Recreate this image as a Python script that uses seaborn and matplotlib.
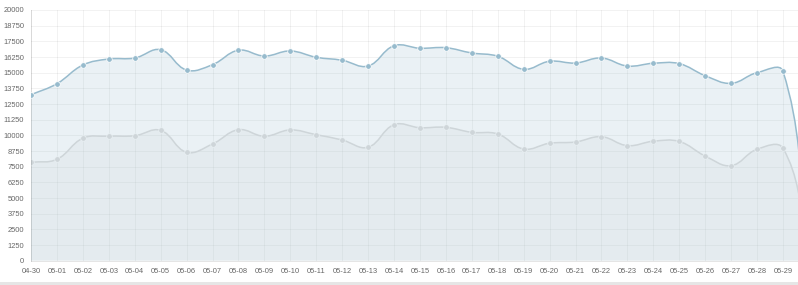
import numpy as np
import pandas as pd
import seaborn as sns
import matplotlib
matplotlib.use("Agg")
import matplotlib.pyplot as plt
from matplotlib.path import Path
from matplotlib.patches import PathPatch, Rectangle

# ---- data ----
dates = ["04-30", "05-01", "05-02", "05-03", "05-04", "05-05", "05-06", "05-07",
         "05-08", "05-09", "05-10", "05-11", "05-12", "05-13", "05-14", "05-15",
         "05-16", "05-17", "05-18", "05-19", "05-20", "05-21", "05-22", "05-23",
         "05-24", "05-25", "05-26", "05-27", "05-28", "05-29", "05-30"]
blue_values = [13240, 14120, 15610, 16090, 16170, 16830, 15210, 15640,
               16790, 16330, 16730, 16230, 15990, 15530, 17150, 16950,
               16990, 16570, 16310, 15270, 15910, 15770, 16170, 15530,
               15750, 15720, 14760, 14150, 15000, 15110, 2000]
grey_values = [7850, 8090, 9770, 9930, 9970, 10400, 8650, 9310,
               10450, 9930, 10430, 10050, 9630, 9050, 10850, 10610,
               10640, 10240, 10110, 8910, 9370, 9470, 9890, 9180,
               9530, 9510, 8350, 7580, 8890, 8970, 1700]
y_ticks = list(range(0, 20001, 1250))

df = pd.DataFrame({"idx": np.arange(len(dates)), "date": dates,
                   "blue": blue_values, "grey": grey_values})

W, H, DPI = 798, 285, 100
fig = plt.figure(figsize=(W / DPI, H / DPI), dpi=DPI)
sns.set_style("white")
plt.rcParams["font.family"] = ["Liberation Sans", "DejaVu Sans"]

x0, x_step = 31, 25.93
y_top, y_bot = 10, 260.7
n = len(dates)
ax = fig.add_axes([x0 / W, (H - y_bot) / H, (n - 1) * x_step / W, (y_bot - y_top) / H])
ax.set_xlim(0, n - 1)
ax.set_ylim(0, 20000)
ax.set_facecolor("white")

sx = x_step
sy = (y_bot - y_top) / 20000.0


def bezier_path(xs, ys, tension=0.4, close_to=None):
    xs = np.asarray(xs, float)
    ys = np.asarray(ys, float)
    m = len(xs)
    inner, outer = [], []
    for i in range(m):
        p = i - 1 if i > 0 else i
        q = i + 1 if i < m - 1 else i
        d01 = np.hypot((xs[i] - xs[p]) * sx, (ys[i] - ys[p]) * sy)
        d12 = np.hypot((xs[q] - xs[i]) * sx, (ys[q] - ys[i]) * sy)
        tot = d01 + d12 if d01 + d12 > 0 else 1
        fa = tension * d01 / tot
        fb = tension * d12 / tot
        ix = xs[i] - fa * (xs[q] - xs[p]); iy = ys[i] - fa * (ys[q] - ys[p])
        ox = xs[i] + fb * (xs[q] - xs[p]); oy = ys[i] + fb * (ys[q] - ys[p])
        iy = min(max(iy, 0), 20000); oy = min(max(oy, 0), 20000)
        inner.append((ix, iy)); outer.append((ox, oy))
    verts = [(xs[0], ys[0])]
    codes = [Path.MOVETO]
    for i in range(1, m):
        verts += [outer[i - 1], inner[i], (xs[i], ys[i])]
        codes += [Path.CURVE4] * 3
    if close_to is not None:
        verts += [(xs[-1], close_to), (xs[0], close_to), (xs[0], ys[0])]
        codes += [Path.LINETO, Path.LINETO, Path.CLOSEPOLY]
    return Path(verts, codes)


# grid
grid_c = (0, 0, 0, 0.05)
for yt in y_ticks:
    ax.axhline(yt, color=grid_c, lw=0.72, zorder=0)
for i in range(n):
    ax.axvline(i, color=grid_c, lw=0.72, zorder=0)

series = [("grey", (220/255, 220/255, 220/255)), ("blue", (151/255, 187/255, 205/255))]
z = 1
for col, c in series:
    ax.add_patch(PathPatch(bezier_path(df["idx"], df[col], close_to=0),
                           facecolor=(*c, 0.2), edgecolor="none", zorder=z))
    ax.add_patch(PathPatch(bezier_path(df["idx"], df[col]),
                           facecolor="none", edgecolor=c, lw=1.1, zorder=z + 0.5))
    sns.scatterplot(data=df, x="idx", y=col, ax=ax, color=c, s=16,
                    edgecolor="white", linewidth=0.5, zorder=z + 0.8, legend=False)
    z += 1

ax.set_xticks(df["idx"])
ax.set_xticklabels(dates)
ax.get_xticklabels()[-1].set_visible(False)  # off-canvas in the reference
ax.set_yticks(y_ticks)
ax.set_yticklabels([str(v) for v in y_ticks])
ax.set_xlabel("")
ax.set_ylabel("")
ax.tick_params(axis="both", labelsize=5.4, labelcolor="#666666", colors=(0, 0, 0, 0.1),
               length=2.5, width=0.72, direction="out")
ax.tick_params(axis="x", pad=2.5)
ax.tick_params(axis="y", pad=2.5)
for s in ["top", "right"]:
    ax.spines[s].set_visible(False)
for s in ["left", "bottom"]:
    ax.spines[s].set_color((0, 0, 0, 0.1))
    ax.spines[s].set_linewidth(0.72)

# bottom page band
fig.patches.append(Rectangle((0, 0), 1, 3.5 / H, transform=fig.transFigure,
                             facecolor="#e6e6e6", edgecolor="none"))

fig.savefig("out.png", dpi=DPI)
